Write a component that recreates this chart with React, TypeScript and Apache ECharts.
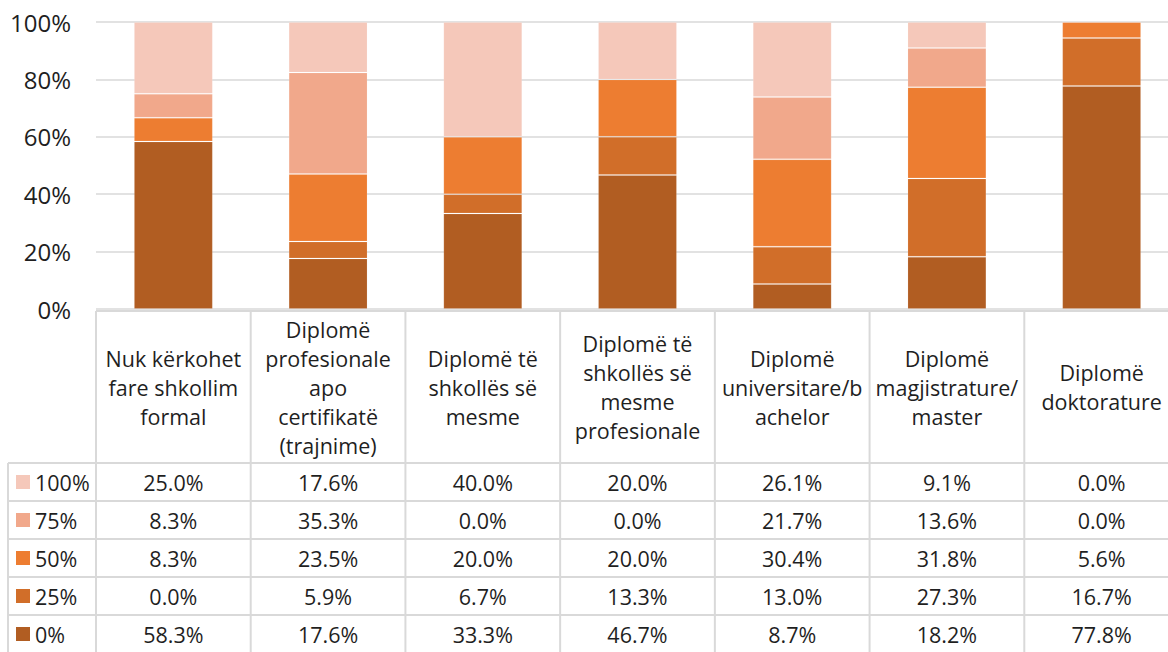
import React, { useEffect, useRef } from 'react';
import * as echarts from 'echarts';

const categories = [
  'Nuk kërkohet\nfare shkollim\nformal',
  'Diplomë\nprofesionale\napo\ncertifikatë\n(trajnime)',
  'Diplomë të\nshkollës së\nmesme',
  'Diplomë të\nshkollës së\nmesme\nprofesionale',
  'Diplomë\nuniversitare/b\nachelor',
  'Diplomë\nmagjistrature/\nmaster',
  'Diplomë\ndoktorature',
];

const seriesNames = ['0%', '25%', '50%', '75%', '100%'];
const values0 = [58.3, 17.6, 33.3, 46.7, 8.7, 18.2, 77.8];
const values25 = [0.0, 5.9, 6.7, 13.3, 13.0, 27.3, 16.7];
const values50 = [8.3, 23.5, 20.0, 20.0, 30.4, 31.8, 5.6];
const values75 = [8.3, 35.3, 0.0, 0.0, 21.7, 13.6, 0.0];
const values100 = [25.0, 17.6, 40.0, 20.0, 26.1, 9.1, 0.0];
const seriesValues = [values0, values25, values50, values75, values100];
const seriesColors = ['#B15D22', '#D16E29', '#ED7D31', '#F1A88B', '#F5C8BA'];
const yTickMax = 100;
const yTickStep = 20;

const FONT = '"Open Sans", "Noto Sans", sans-serif';
const TEXT = '#1f1f1f';
const LINE = '#d9d9d9';
const TABLE_FS = 21.5;

export default function App() {
  const ref = useRef<HTMLDivElement>(null);

  useEffect(() => {
    if (!ref.current) return;
    const chart = echarts.init(ref.current, undefined, { renderer: 'svg' });

    const totals = categories.map((_, i) => seriesValues.reduce((s, arr) => s + arr[i], 0));

    chart.setOption({
      animation: false,
      grid: { left: 96, top: 22, width: 1083, height: 287, containLabel: false, outerBoundsMode: 'none' },
      xAxis: {
        type: 'category',
        data: categories,
        axisLine: { show: false },
        axisTick: { show: false },
        axisLabel: { show: false },
      },
      yAxis: {
        type: 'value',
        min: 0,
        max: yTickMax,
        interval: yTickStep,
        axisLine: { show: false },
        axisTick: { show: false },
        axisLabel: {
          formatter: (v: number) => v + '%',
          fontFamily: FONT,
          fontSize: 24,
          color: TEXT,
          margin: 25,
        },
        splitLine: { lineStyle: { color: LINE, width: 1.5 } },
      },
      series: seriesNames.map((name, k) => ({
        name,
        type: 'bar',
        stack: 'total',
        barWidth: '51%',
        data: seriesValues[k].map((v, i) => (v / totals[i]) * 100),
        itemStyle: { color: seriesColors[k], borderColor: 'rgba(255,255,255,0.12)', borderWidth: 1 },
      })),
    });

    const xs = categories.map((_, i) => chart.convertToPixel({ xAxisIndex: 0 }, i) as number);
    const band = xs[1] - xs[0];
    const y0 = chart.convertToPixel({ yAxisIndex: 0 }, 0) as number;
    const tableTop = y0 + 2;
    const headerH = 152;
    const rowH = 38;
    const rowsTop = tableTop + headerH;
    const legendLeft = 8;
    const firstLeft = xs[0] - band / 2;
    const lastRight = xs[xs.length - 1] + band / 2;
    const bottom = 660;

    const g: any[] = [];
    const line = (x1: number, y1: number, x2: number, y2: number) =>
      g.push({ type: 'line', shape: { x1, y1, x2, y2 }, style: { stroke: LINE, lineWidth: 2 }, silent: true });

    line(firstLeft, tableTop, lastRight, tableTop);
    const rowOrder = [4, 3, 2, 1, 0];
    for (let r = 0; r <= rowOrder.length; r++) {
      line(legendLeft, rowsTop + r * rowH, lastRight, rowsTop + r * rowH);
    }
    line(legendLeft, rowsTop, legendLeft, bottom);
    for (let i = 0; i <= categories.length; i++) {
      const x = firstLeft + i * band;
      line(x, tableTop, x, bottom);
    }
    categories.forEach((c, i) => {
      g.push({
        type: 'text',
        silent: true,
        style: {
          text: c,
          x: xs[i],
          y: tableTop + headerH / 2,
          align: 'center',
          verticalAlign: 'middle',
          fontFamily: FONT,
          fontSize: TABLE_FS,
          lineHeight: 29,
          fill: TEXT,
        },
      });
    });
    rowOrder.forEach((k, r) => {
      const cy = rowsTop + r * rowH + rowH / 2;
      g.push({
        type: 'rect',
        silent: true,
        shape: { x: 16, y: cy - 7, width: 14, height: 14 },
        style: { fill: seriesColors[k] },
      });
      g.push({
        type: 'text',
        silent: true,
        style: {
          text: seriesNames[k],
          x: 35,
          y: cy,
          align: 'left',
          verticalAlign: 'middle',
          fontFamily: FONT,
          fontSize: TABLE_FS,
          fill: TEXT,
        },
      });
      seriesValues[k].forEach((v, i) => {
        g.push({
          type: 'text',
          silent: true,
          style: {
            text: v.toFixed(1) + '%',
            x: xs[i],
            y: cy,
            align: 'center',
            verticalAlign: 'middle',
            fontFamily: FONT,
            fontSize: TABLE_FS,
            fill: TEXT,
          },
        });
      });
    });

    chart.setOption({ graphic: g });

    return () => chart.dispose();
  }, []);

  return (
    <div
      ref={ref}
      style={{ position: 'fixed', left: 0, top: 0, width: 1168, height: 652, background: '#fff' }}
    />
  );
}
